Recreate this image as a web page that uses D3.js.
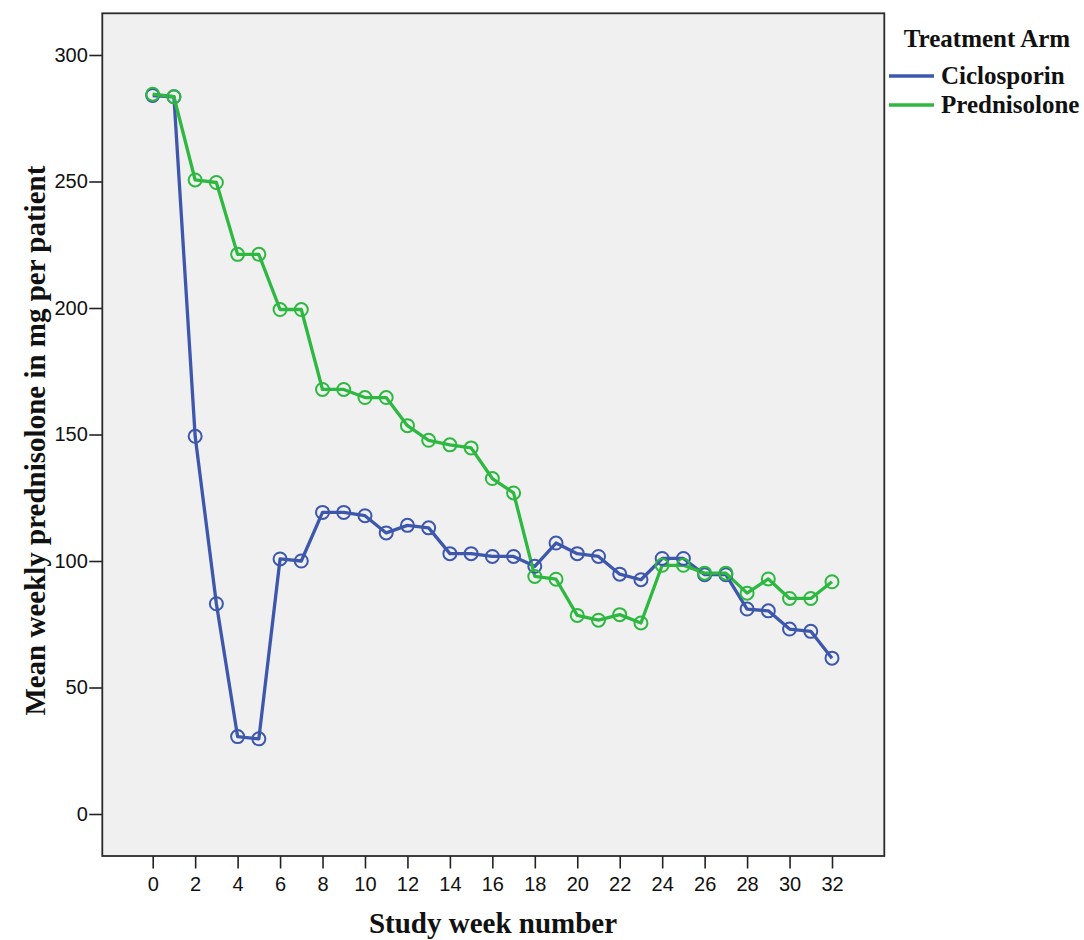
<!DOCTYPE html>
<html>
<head>
<meta charset="utf-8">
<script src="https://cdn.jsdelivr.net/npm/d3@7"></script>
<style>
  html, body { margin: 0; padding: 0; background: #ffffff; }
  svg { display: block; }
</style>
</head>
<body>
<svg id="chart" width="1084" height="940"></svg>
<script>
const weeks = d3.range(0, 33);
const ciclosporin = [284, 283.5, 149.3, 83.1, 30.6, 29.7, 100.8, 100, 119.2, 119.2, 117.9, 111.1, 114.1, 113.1, 102.9, 102.9, 101.8, 101.8, 97.9, 107.1, 102.9, 101.8, 94.8, 92.6, 101, 101, 94.6, 94.6, 81, 80.3, 73.1, 72.2, 61.6];
const prednisolone = [284.5, 283.5, 250.6, 249.6, 221.2, 221.2, 199.4, 199.4, 167.8, 167.8, 164.6, 164.6, 153.5, 147.7, 145.9, 144.7, 132.6, 126.9, 93.9, 92.8, 78.5, 76.6, 78.8, 75.5, 98.3, 98.3, 95.2, 95.2, 87.3, 92.9, 85.2, 85.2, 91.8];
const seriesNames = ["Ciclosporin", "Prednisolone"];
const seriesColors = ["#3d57ad", "#2db840"];
const xTicks = d3.range(0, 33, 2);
const yTicks = [0, 50, 100, 150, 200, 250, 300];
const xTitle = "Study week number";
const yTitle = "Mean weekly prednisolone in mg per patient";
const legendTitle = "Treatment Arm";

const svg = d3.select("#chart");
const frame = { left: 102.3, top: 13.3, right: 884.3, bottom: 856 };

const x = d3.scaleLinear().domain([0, 32]).range([152.7, 832]);
const y = d3.scaleLinear().domain([0, 300]).range([814, 55]);

// plot background
svg.append("rect")
  .attr("x", frame.left).attr("y", frame.top)
  .attr("width", frame.right - frame.left).attr("height", frame.bottom - frame.top)
  .attr("fill", "#f0f0f0");

// axes
const xAxis = svg.append("g")
  .attr("transform", `translate(0,${frame.bottom})`)
  .call(d3.axisBottom(x).tickValues(xTicks).tickSize(12.5).tickPadding(8).tickSizeOuter(0));
const yAxis = svg.append("g")
  .attr("transform", `translate(${frame.left},0)`)
  .call(d3.axisLeft(y).tickValues(yTicks).tickSize(13).tickPadding(1.5).tickSizeOuter(0));
[xAxis, yAxis].forEach(a => {
  a.select(".domain").remove();
  a.selectAll(".tick line").attr("stroke", "#222").attr("stroke-width", 1.6);
  a.selectAll(".tick text").attr("fill", "#111")
    .attr("font-family", "Liberation Sans, Arial, sans-serif").attr("font-size", 20);
});

// series
const data = [ciclosporin, prednisolone];
const line = d3.line().x((d, i) => x(weeks[i])).y(d => y(d));
data.forEach((vals, k) => {
  svg.append("path")
    .datum(vals)
    .attr("d", line)
    .attr("fill", "none")
    .attr("stroke", seriesColors[k])
    .attr("stroke-width", 3.3)
    .attr("stroke-linejoin", "round");
});
data.forEach((vals, k) => {
  svg.append("g").selectAll("circle")
    .data(vals)
    .join("circle")
    .attr("cx", (d, i) => x(weeks[i]))
    .attr("cy", d => y(d))
    .attr("r", 6.5)
    .attr("fill", "none")
    .attr("stroke", seriesColors[k])
    .attr("stroke-width", 2);
});

// frame
svg.append("rect")
  .attr("x", frame.left).attr("y", frame.top)
  .attr("width", frame.right - frame.left).attr("height", frame.bottom - frame.top)
  .attr("fill", "none").attr("stroke", "#2a2a2a").attr("stroke-width", 1.8);

// axis titles
svg.append("text")
  .attr("x", 493).attr("y", 933)
  .attr("text-anchor", "middle")
  .attr("font-family", "Liberation Serif, Times New Roman, serif")
  .attr("font-weight", "bold").attr("font-size", 29).attr("fill", "#111")
  .text(xTitle);
svg.append("text")
  .attr("transform", `translate(45,${(frame.top + frame.bottom) / 2 + 6}) rotate(-90)`)
  .attr("text-anchor", "middle")
  .attr("font-family", "Liberation Serif, Times New Roman, serif")
  .attr("font-weight", "bold").attr("font-size", 29).attr("fill", "#111")
  .text(yTitle);

// legend
const lg = svg.append("g");
lg.append("text")
  .attr("x", 987).attr("y", 47)
  .attr("text-anchor", "middle")
  .attr("font-family", "Liberation Serif, Times New Roman, serif")
  .attr("font-weight", "bold").attr("font-size", 25).attr("fill", "#111")
  .text(legendTitle);
seriesNames.forEach((name, k) => {
  const yy = 76 + k * 29;
  lg.append("line")
    .attr("x1", 889).attr("x2", 934).attr("y1", yy).attr("y2", yy)
    .attr("stroke", seriesColors[k]).attr("stroke-width", 3.3);
  lg.append("text")
    .attr("x", 941).attr("y", yy + 8)
    .attr("font-family", "Liberation Serif, Times New Roman, serif")
    .attr("font-weight", "bold").attr("font-size", 25).attr("fill", "#111")
    .text(name);
});
</script>
</body>
</html>
